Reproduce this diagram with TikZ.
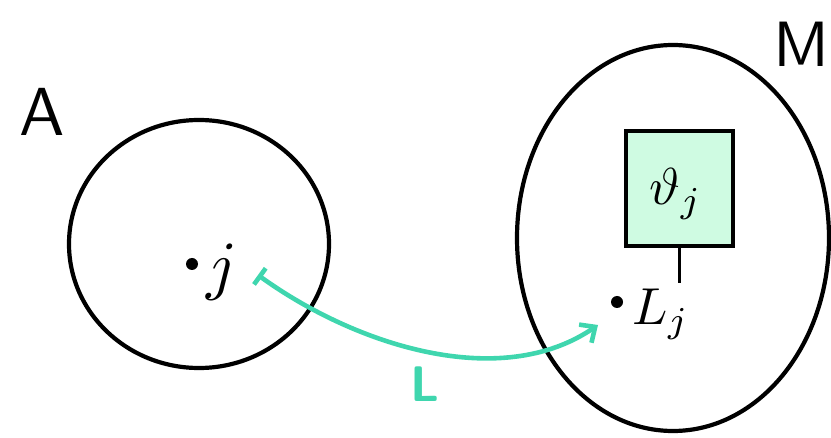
\documentclass[tikz,border=0pt]{standalone}
\usetikzlibrary{arrows.meta,shapes.geometric}
\definecolor{teal1}{HTML}{3FD6AE}
\definecolor{mint}{HTML}{CFFBE2}
\begin{document}
\begin{tikzpicture}[x=1pt,y=-1pt,
  set/.style={draw=black,line width=4.2pt},
  pt/.style={circle,fill=black,inner sep=0pt,minimum size=12pt},
  lbl/.style={inner sep=0pt},
  map/.style={draw=teal1,line width=4.6pt,
    {Bar[width=20pt,line width=4.6pt]}-{Straight Barb[length=12pt,width=22pt,line width=4.6pt]}}]
\useasboundingbox (0,0) rectangle (831,438);
% the two sets
\node[set,ellipse,minimum width=260pt,minimum height=248pt,inner sep=0pt] (A) at (199,244) {};
\node[set,ellipse,minimum width=312pt,minimum height=386pt,inner sep=0pt] (M) at (673,238) {};
\node[lbl] (Alabel) at (42,112) {\scalebox{6.8}{\sffamily A}};
\node[lbl,anchor=east] (Mlabel) at (830,44) {\scalebox{6.4}{\sffamily M}};
% point j in A
\node[pt] (jdot) at (192,264) {};
\node[lbl] (j) at (222,272) {\scalebox{6.6}{$j$}};
% point L_j in M with its box
\node[pt] (Ldot) at (617,302) {};
\node[lbl,anchor=west] (Lj) at (632,314) {\scalebox{5.2}{$L_{\scriptstyle j}$}};
\node[draw=black,line width=4.2pt,fill=mint,minimum width=107pt,minimum height=115pt,inner sep=0pt] (box) at (679.5,188.5) {};
\node[lbl] (theta) at (676,194) {\scalebox{5.2}{$\vartheta_{\scriptstyle j}$}};
\coordinate (stem) at (679.5,283);
\draw[line width=3.8pt] (box.south) -- (stem);
% the map L
\coordinate (from) at (258,275);
\coordinate (to) at (598,325);
\draw[map] (from) .. controls (355,345) and (500,392) .. (to);
\node[lbl,text=teal1] (Llabel) at (425,384) {\scalebox{5}{\sffamily\bfseries L}};
\end{tikzpicture}
\end{document}
